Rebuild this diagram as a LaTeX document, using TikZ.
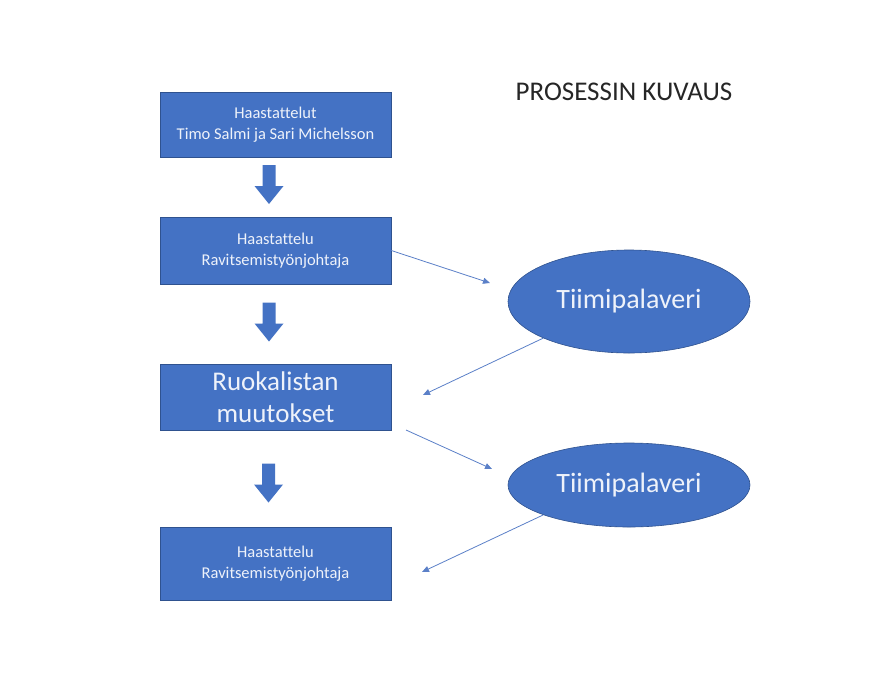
\documentclass[tikz,border=0pt]{standalone}
\usepackage{fontspec}
\setmainfont{Carlito}[Ligatures={NoCommon}]
\usetikzlibrary{shapes.geometric,arrows.meta}
\definecolor{boxblue}{HTML}{4472C4}
\definecolor{boxline}{HTML}{2F528F}
\definecolor{thinblue}{HTML}{5B80C8}
\definecolor{boxtext}{HTML}{EEF2FA}
\definecolor{titlegray}{HTML}{262626}
\tikzset{
  stepbox/.style={draw=boxline, line width=0.6pt, fill=boxblue, text=boxtext,
    minimum width=231pt, inner sep=0pt, align=center},
  smalltext/.style={font=\fontsize{16.5}{21.5}\selectfont},
  bigtext/.style={font=\fontsize{27}{32}\selectfont},
  meeting/.style={ellipse, draw=boxline, line width=0.6pt, fill=boxblue, text=boxtext,
    inner sep=0pt, font=\fontsize{28}{32}\selectfont},
  thinarrow/.style={draw=thinblue, line width=0.8pt, -{Triangle[length=7pt,width=6pt]}},
  blockarrow/.pic={\fill[boxblue] (-6.5,-19.5) -- (6.5,-19.5) -- (6.5,1.5) -- (14.5,1.5)
    -- (0,19.5) -- (-14.5,1.5) -- (-6.5,1.5) -- cycle;}
}
\begin{document}
\begin{tikzpicture}[x=1pt,y=-1pt]
\useasboundingbox (0,0) rectangle (885,688);
\fill[white] (0,0) rectangle (885,688);

\node[text=titlegray, font=\fontsize{27}{30}\selectfont, inner sep=0pt] (title) at (624,92) {PROSESSIN KUVAUS};

\node[stepbox, smalltext, minimum height=65pt] (b1) at (275.5,124.5) {Haastattelut\\Timo Salmi ja Sari Michelsson};
\node[stepbox, smalltext, minimum height=67pt] (b2) at (275.5,250.5) {Haastattelu\\Ravitsemistyönjohtaja};
\node[stepbox, bigtext, minimum height=66pt] (b3) at (275.5,397) {Ruokalistan\\muutokset};
\node[stepbox, smalltext, minimum height=73pt] (b4) at (275.5,563.5) {Haastattelu\\Ravitsemistyönjohtaja};

\node[meeting, minimum width=242pt, minimum height=103pt] (e1) at (629,301.5) {Tiimipalaveri};
\node[meeting, minimum width=242pt, minimum height=84pt] (e2) at (629,485) {Tiimipalaveri};

\pic at (269,184.5) {blockarrow};
\pic at (269,322) {blockarrow};
\pic at (268.5,483) {blockarrow};

\coordinate (t1) at (490,283);
\coordinate (t2) at (423,395);
\coordinate (s3) at (406,430);
\coordinate (t3) at (492,469);
\coordinate (t4) at (422,572);

\draw[thinarrow] (b2.east) -- (t1);
\draw[thinarrow] (e1.south west) -- (t2);
\draw[thinarrow] (s3) -- (t3);
\draw[thinarrow] (e2.south west) -- (t4);
\end{tikzpicture}
\end{document}
